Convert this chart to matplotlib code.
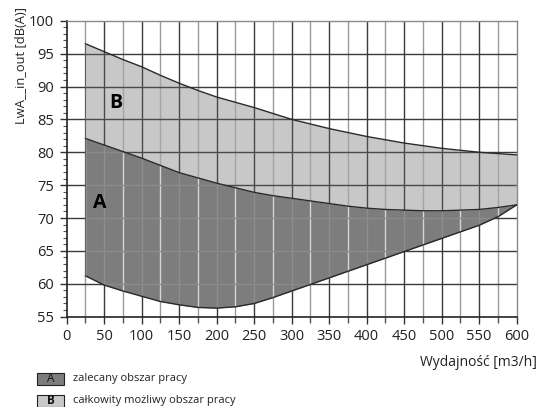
import matplotlib
matplotlib.use("Agg")
import matplotlib.pyplot as plt
from matplotlib.patches import Rectangle
from matplotlib.ticker import MultipleLocator

plt.rcParams['font.family'] = ['Open Sans', 'DejaVu Sans']

# Data
flow = [25, 50, 75, 100, 125, 150, 175, 200, 225, 250, 275, 300,
        325, 350, 375, 400, 425, 450, 475, 500, 525, 550, 575, 600]
b_upper = [96.5, 95.3, 94.1, 93.0, 91.7, 90.5, 89.4, 88.4, 87.6, 86.8, 85.9, 85.0,
           84.3, 83.6, 83.0, 82.4, 81.9, 81.4, 81.0, 80.6, 80.3, 80.0, 79.8, 79.6]
a_upper = [82.1, 81.1, 80.1, 79.1, 78.0, 76.9, 76.1, 75.3, 74.6, 73.9, 73.4, 73.0,
           72.6, 72.2, 71.8, 71.5, 71.3, 71.2, 71.1, 71.1, 71.2, 71.3, 71.6, 72.0]
a_lower = [61.2, 59.8, 58.9, 58.1, 57.3, 56.8, 56.4, 56.3, 56.5, 57.0, 57.9, 58.9,
           59.9, 60.9, 61.9, 62.9, 63.9, 64.9, 65.9, 66.9, 67.9, 68.9, 70.2, 72.0]

x_ticks = [0, 50, 100, 150, 200, 250, 300, 350, 400, 450, 500, 550, 600]
y_ticks = [55, 60, 65, 70, 75, 80, 85, 90, 95, 100]
legend_labels = ["zalecany obszar pracy", "całkowity możliwy obszar pracy"]

col_a = "#7d7d7d"
col_b = "#c8c8c8"

fig = plt.figure(figsize=(5.45, 4.07), dpi=100)
ax = fig.add_axes([0.1224, 0.222, 0.8256, 0.727])
ax.set_xlim(0, 600)
ax.set_ylim(55, 100)

xmaj = list(range(50, 600, 50))
xmin = list(range(25, 600, 50))
yh = list(range(60, 100, 5))

def grid(cmaj, cmin, ch, z, clip=None):
    lcs = [ax.vlines(xmaj, 55, 100, colors=cmaj, lw=1.0, zorder=z),
           ax.vlines(xmin, 55, 100, colors=cmin, lw=1.0, zorder=z),
           ax.hlines(yh, 0, 600, colors=ch, lw=1.0, zorder=z)]
    if clip is not None:
        for lc in lcs:
            lc.set_clip_path(clip.get_paths()[0], ax.transData)

grid("#3a3a3a", "#9a9a9a", "#3a3a3a", 0.5)

fb = ax.fill_between(flow, a_upper, b_upper, color=col_b, lw=0, zorder=1)
fa = ax.fill_between(flow, a_lower, a_upper, color=col_a, lw=0, zorder=1)

grid("#4a4a4a", "#a4a4a4", "#4a4a4a", 1.5, clip=fb)
grid("#8e8e8e", "#d4d4d4", "#8a8a8a", 1.5, clip=fa)

ax.plot(flow, b_upper, color="#2a2a2a", lw=1.0, zorder=3)
ax.plot(flow, a_upper, color="#2a2a2a", lw=1.0, zorder=3)
ax.plot(flow, a_lower, color="#2a2a2a", lw=1.0, zorder=3)
ax.plot([25, 25], [a_lower[0], b_upper[0]], color="#555555", lw=0.6, zorder=3)

ax.text(44, 72.3, "A", fontsize=14, fontweight="bold", ha="center", va="center", zorder=4)
ax.text(65, 87.5, "B", fontsize=14, fontweight="bold", ha="center", va="center", zorder=4)

ax.set_xticks(x_ticks)
ax.set_yticks(y_ticks)
ax.xaxis.set_minor_locator(MultipleLocator(25))
ax.yaxis.set_minor_locator(MultipleLocator(1))
ax.tick_params(axis="both", which="major", direction="out", length=5, width=1,
               color="#333333", labelsize=10.5, labelcolor="#222222", pad=4)
ax.tick_params(axis="x", which="minor", direction="out", length=4, width=1, color="#555555")
ax.tick_params(axis="y", which="minor", direction="out", length=3, width=0.8, color="#555555")

for s in ["left", "bottom"]:
    ax.spines[s].set_color("#222222")
    ax.spines[s].set_linewidth(1.2)
for s in ["top", "right"]:
    ax.spines[s].set_color("#8a8a8a")
    ax.spines[s].set_linewidth(1.0)

fig.text(22 / 545, 1 - 7 / 407, "LwA__in_out [dB(A)]", rotation=90, ha="center", va="top",
         fontsize=9.3, color="#222222")
fig.text(0.985, 0.11, "Wydajność [m3/h]", ha="right", va="center",
         fontsize=10, color="#222222")

# legend
for i, (lab, col, letter) in enumerate(zip(legend_labels, [col_a, col_b], ["A", "B"])):
    ytop = 373 + i * 22
    yb = 1 - (ytop + 12) / 407
    fig.patches.append(Rectangle((37 / 545, yb), 27 / 545, 12 / 407, transform=fig.transFigure,
                                 facecolor=col, edgecolor="#222222", lw=0.8))
    fig.text(50.5 / 545, yb + 6 / 407, letter, ha="center", va="center", fontsize=8.5,
             fontweight="bold" if letter == "B" else "normal", color="#111111")
    fig.text(73 / 545, yb + 6 / 407, lab, ha="left", va="center", fontsize=8, color="#222222")

fig.savefig("out.png", dpi=100)
